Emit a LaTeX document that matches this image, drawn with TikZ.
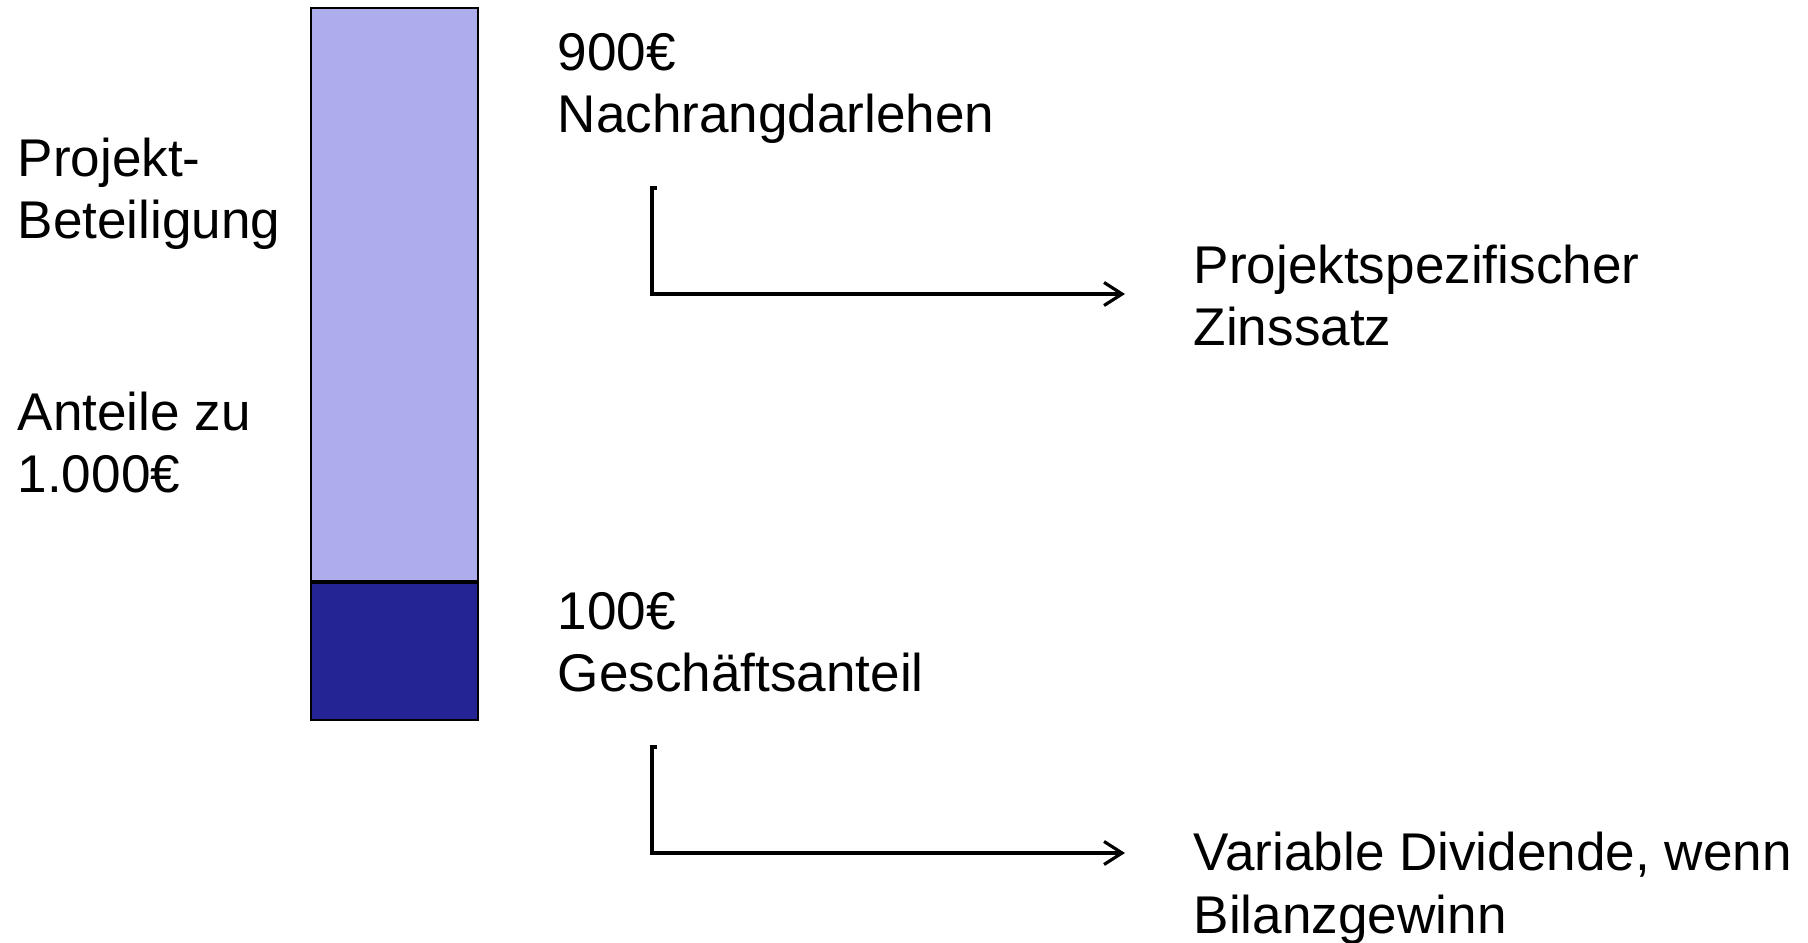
\documentclass[tikz,border=0pt]{standalone}
\usepackage{fontspec}
\setmainfont{Liberation Sans}
\usetikzlibrary{arrows.meta,positioning}
\definecolor{lightbar}{RGB}{173,173,235}
\definecolor{darkbar}{RGB}{36,36,148}

\begin{document}
\begin{tikzpicture}[x=0.01cm, y=-0.01cm]
        \tikzstyle{word}=[anchor=base west, inner sep=0pt, align=left, font=\fontsize{15.1}{17.9}\selectfont];
        \tikzstyle{bar}=[draw=black, line width=0.5pt, minimum width=1.67cm, inner sep=0pt];
        \tikzstyle{flow}=[line width=0.9pt, -{Straight Barb[length=1.8mm, width=2.3mm]}];

        \useasboundingbox (0, 0) rectangle (1808, 943);

        % the bar
        \node[bar, fill=lightbar, minimum height=5.73cm, anchor=north west] (darlehen) at (310, 7) {};
        \node[bar, fill=darkbar, minimum height=1.37cm, below=0pt of darlehen] (anteil) {};

        % left side (base = last line)
        \node[word] (beteiligung) at (17, 239) {Projekt-\\Beteiligung};
        \node[word] (stueckelung) at (17, 493) {Anteile zu\\1.000€};

        % middle
        \node[word] (nachrang) at (557, 133) {900€\\Nachrangdarlehen};
        \node[word] (geschaeft) at (557, 692) {100€\\Geschäftsanteil};

        % right side
        \node[word] (zins) at (1193, 346) {Projektspezifischer\\Zinssatz};
        \node[word] (dividende) at (1193, 933) {Variable Dividende, wenn\\Bilanzgewinn};

        % arrows
        \coordinate (zinsstart) at (657, 188);
        \coordinate (zinsend) at (1125, 294);
        \coordinate (divstart) at (657, 747);
        \coordinate (divend) at (1125, 853);

        \draw[flow] (zinsstart) -- ++(-5, 0) |- (zinsend);
        \draw[flow] (divstart) -- ++(-5, 0) |- (divend);
\end{tikzpicture}
\end{document}
